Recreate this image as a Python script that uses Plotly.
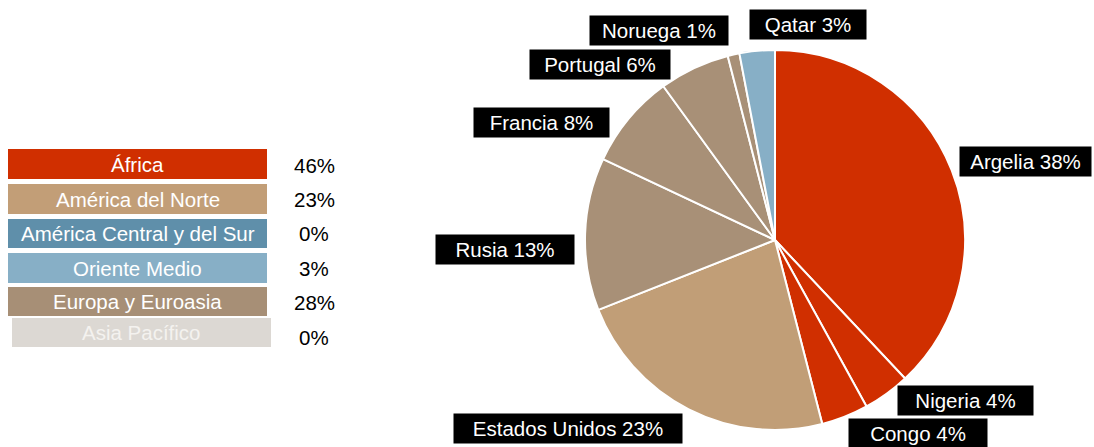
import plotly.graph_objects as go

# Pie slices (clockwise from 12 o'clock)
countries = ["Argelia", "Nigeria", "Congo", "Estados Unidos", "Rusia",
             "Francia", "Portugal", "Noruega", "Qatar"]
shares = [38, 4, 4, 23, 13, 8, 6, 1, 3]
slice_colors = ["#D02F00", "#D02F00", "#D02F00", "#C19E77", "#A89077",
                "#A89077", "#A89077", "#A89077", "#87AFC6"]

# Region summary on the left
regions = ["África", "América del Norte", "América Central y del Sur",
           "Oriente Medio", "Europa y Euroasia", "Asia Pacífico"]
region_shares = [46, 23, 0, 3, 28, 0]
region_colors = ["#D02F00", "#C29E77", "#5F8FAA", "#87AFC6", "#A78F76", "#DCD8D3"]
region_text_colors = ["#FFFFFF", "#FFFFFF", "#FFFFFF", "#FFFFFF", "#FFFFFF", "#F4F2EF"]

W, H = 1094, 447
FONT = "Liberation Sans, Arial, sans-serif"


def px(x):
    return x / W


def py(y):
    return 1 - y / H


# Label box placement in pixels: (center x, center y, width)
label_boxes = [(1025, 162, 131), (965, 400, 135), (918, 433, 138),
               (568, 428, 228), (505, 249, 138), (541, 122, 135),
               (600, 65, 140), (659, 30, 138), (808, 25, 116)]

# Region rows in pixels: (left, top, right, bottom)
region_boxes = [(8, 149, 267, 179), (8, 184, 267, 214), (8, 219, 267, 248),
                (8, 253, 267, 283), (8, 287, 267, 316), (12, 318, 271, 347)]
pct_centers = [165, 199, 233, 268, 302, 337]

fig = go.Figure()
fig.add_trace(go.Pie(
    labels=countries,
    values=shares,
    sort=False,
    direction="clockwise",
    rotation=0,
    marker=dict(colors=slice_colors, line=dict(color="#FFFFFF", width=2)),
    textinfo="none",
    domain=dict(x=[px(585), px(965)], y=[py(430), py(50)]),
    showlegend=False,
))

annotations = []
shapes = []

for name, val, (cx, cy, bw) in zip(countries, shares, label_boxes):
    annotations.append(dict(
        x=px(cx), y=py(cy), xref="paper", yref="paper",
        text=f"{name} {val}%", showarrow=False,
        font=dict(family=FONT, size=20.5, color="#FFFFFF"),
        bgcolor="#000000", borderpad=0, width=bw, height=29,
        xanchor="center", yanchor="middle",
    ))

for name, val, col, tcol, (x0, y0, x1, y1), pc in zip(
        regions, region_shares, region_colors, region_text_colors,
        region_boxes, pct_centers):
    shapes.append(dict(
        type="rect", xref="paper", yref="paper",
        x0=px(x0), x1=px(x1), y0=py(y1), y1=py(y0),
        fillcolor=col, line=dict(width=0), layer="below",
    ))
    annotations.append(dict(
        x=px((x0 + x1) / 2), y=py((y0 + y1) / 2), xref="paper", yref="paper",
        text=name, showarrow=False,
        font=dict(family=FONT, size=20.5, color=tcol),
        xanchor="center", yanchor="middle",
    ))
    annotations.append(dict(
        x=px(314), y=py(pc), xref="paper", yref="paper",
        text=f"{val}%", showarrow=False,
        font=dict(family=FONT, size=20.5, color="#000000"),
        xanchor="center", yanchor="middle",
    ))

fig.update_layout(
    width=W, height=H,
    margin=dict(l=0, r=0, t=0, b=0),
    paper_bgcolor="#FFFFFF",
    plot_bgcolor="#FFFFFF",
    annotations=annotations,
    shapes=shapes,
    showlegend=False,
)

fig.write_html("out.html")
